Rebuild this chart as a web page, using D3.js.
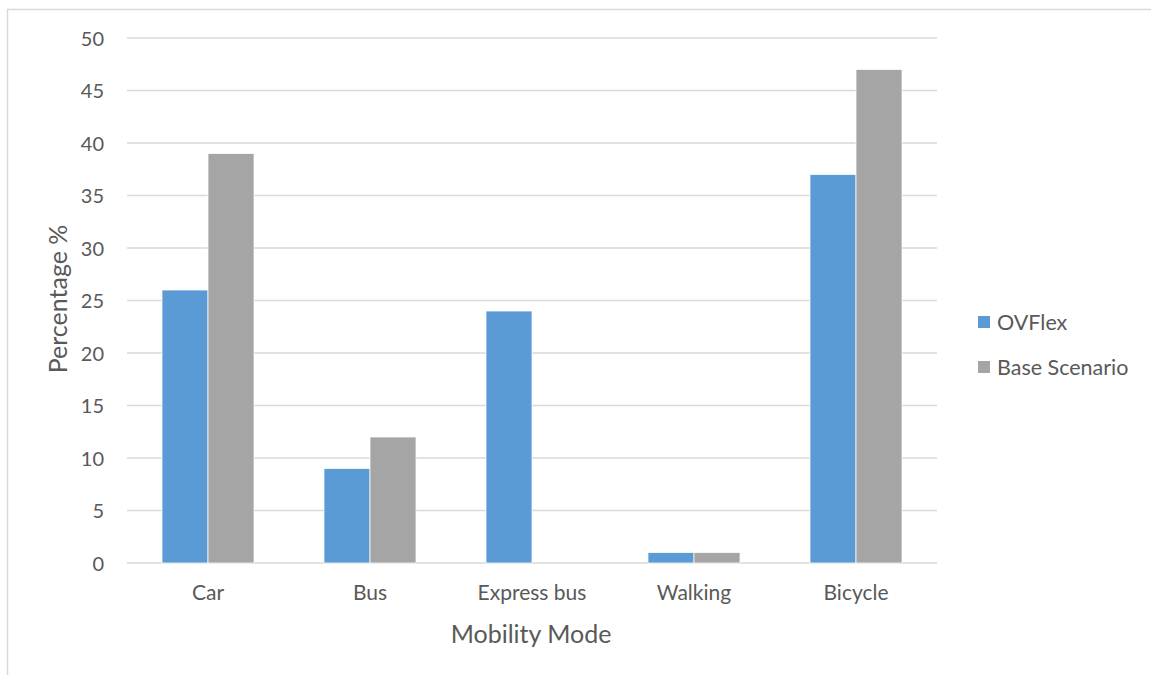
<!DOCTYPE html>
<html><head><meta charset="utf-8">
<script src="https://cdn.jsdelivr.net/npm/d3@7"></script>
<style>body{margin:0;background:#fff;}svg{display:block;font-family:Lato,"Open Sans",sans-serif;}</style>
</head><body>
<script>
const categories = ["Car","Bus","Express bus","Walking","Bicycle"];
const seriesNames = ["OVFlex","Base Scenario"];
const ovflex = [26,9,24,1,37];
const base = [39,12,0,1,47];
const yTicks = [0,5,10,15,20,25,30,35,40,45,50];
const colors = ["#5B9BD5","#A5A5A5"];

const W=1151,H=675;
const svg=d3.select("body").append("svg").attr("width",W).attr("height",H);
svg.append("path").attr("d","M7.5,675 L7.5,9.5 L1151,9.5").attr("fill","none").attr("stroke","#d9d9d9").attr("stroke-width",1.5);

const x0=127,x1=937,yTop=38,yBot=563;
const x=d3.scaleBand().domain(categories).range([x0,x1]).paddingInner(0.432).paddingOuter(0.216);
const xs=d3.scaleBand().domain(seriesNames).range([0,x.bandwidth()]);
const y=d3.scaleLinear().domain([0,50]).range([yBot,yTop]);

const g=svg.append("g");
g.selectAll("line.grid").data(yTicks).join("line")
 .attr("x1",x0).attr("x2",x1).attr("y1",d=>y(d)).attr("y2",d=>y(d))
 .attr("stroke","#d9d9d9").attr("stroke-width",1.5);

const yAxis=d3.axisLeft(y).tickValues(yTicks).tickSize(0).tickPadding(0);
const ya=svg.append("g").attr("transform",`translate(104,0)`).call(yAxis);
ya.select(".domain").remove();
ya.selectAll("text").attr("font-size",20).attr("fill","#595959").attr("font-family","Lato,sans-serif").attr("dy","0.35em");

const data=[ovflex,base];
data.forEach((vals,si)=>{
  g.selectAll("rect.s"+si).data(vals).join("rect")
   .attr("x",(d,i)=>x(categories[i])+xs(seriesNames[si]))
   .attr("width",xs.bandwidth())
   .attr("y",d=>y(d)).attr("height",d=>y(0)-y(d))
   .attr("fill",colors[si]).attr("stroke","#fff").attr("stroke-width",0.75);
});

const xAxis=d3.axisBottom(x).tickSize(0).tickPadding(0);
const xa=svg.append("g").attr("transform",`translate(0,${yBot+30})`).call(xAxis);
xa.select(".domain").remove();
xa.selectAll("text").attr("font-size",21).attr("fill","#595959").attr("font-family","Lato,sans-serif").attr("dy","0.35em");

svg.append("text").attr("x",(x0+x1)/2-1).attr("y",634).attr("dy","0.35em").attr("text-anchor","middle")
 .attr("font-size",25).attr("fill","#595959").text("Mobility Mode");
svg.append("text").attr("transform","translate(58,299) rotate(-90)").attr("dy","0.35em").attr("text-anchor","middle")
 .attr("font-size",25).attr("fill","#595959").text("Percentage %");

const leg=svg.append("g");
seriesNames.forEach((n,i)=>{
  const cy=322+i*45;
  leg.append("rect").attr("x",978).attr("y",cy-6).attr("width",12).attr("height",12).attr("fill",colors[i]);
  leg.append("text").attr("x",997).attr("y",cy).attr("dy","0.35em").attr("font-size",21.5).attr("fill","#595959").text(n);
});
</script>
</body></html>
